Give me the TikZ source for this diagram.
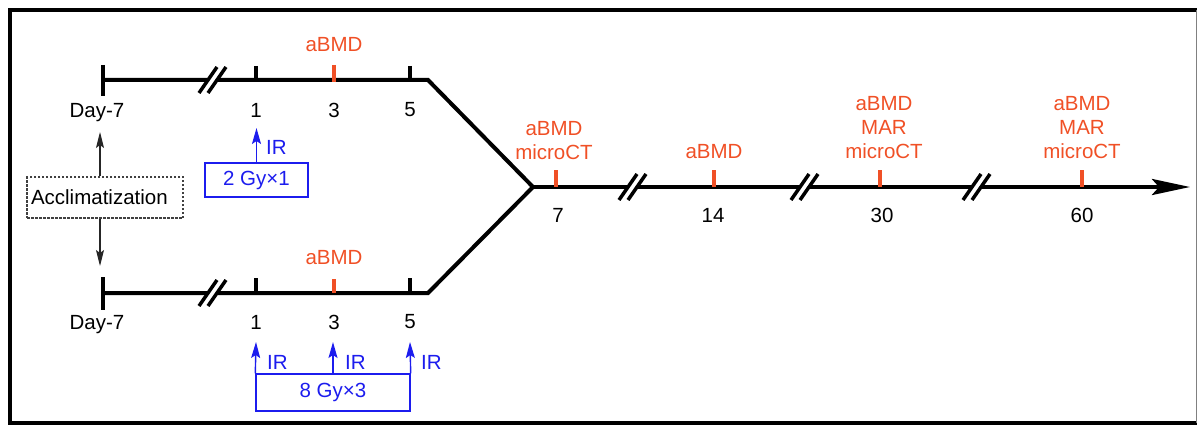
\documentclass[tikz,border=0pt]{standalone}
\usepackage{fontspec}
\setmainfont{Liberation Sans}
\usetikzlibrary{arrows.meta}
\definecolor{assay}{RGB}{240,80,38}
\definecolor{dose}{RGB}{28,28,238}
\begin{document}
\begin{tikzpicture}[x=1pt,y=-1pt,
  txt/.style={font=\fontsize{20.5}{24}\selectfont, inner sep=0pt, align=center},
  assaytxt/.style={txt, text=assay},
  dosetxt/.style={txt, text=dose},
  axis/.style={line width=4pt},
  blacktick/.style={line width=3.5pt},
  assaytick/.style={line width=4pt, draw=assay},
  irarrow/.style={draw=dose, line width=1.4pt, -{Stealth[length=16pt,width=9pt,inset=3pt]}},
  accarrow/.style={draw=black!85, line width=1.1pt, -{Stealth[length=16pt,width=8pt,inset=3pt]}},
  dosebox/.style={draw=dose, line width=1.4pt, txt, text=dose},
  brk/.pic={
    \fill[white] (-14,13) -- (4,-13) -- (13,-13) -- (-5,13) -- cycle;
    \draw[line width=3.5pt] (-14,13) -- (4,-13) (-5,13) -- (13,-13);
  }
]
\useasboundingbox (0,0) rectangle (1198,425);

% frame
\draw[line width=4pt] (1196.5,10) -- (10,10) -- (10,422.5) -- (1196.5,422.5);
\draw[line width=1pt, gray] (1196.5,10) -- (1196.5,422.5);

% timeline points
\coordinate (T0) at (103,80);
\coordinate (TC) at (428,80);
\coordinate (J)  at (533,187);
\coordinate (B0) at (103,293);
\coordinate (BC) at (428,293);
\coordinate (E)  at (1190,187);

% two arms merging into the common axis
\draw[axis, line join=miter] (T0) -- (TC) -- (J) -- (BC) -- (B0);
\draw[axis, -{Stealth[length=38pt,width=16pt,inset=7pt]}] (J) -- (E);

% start bars
\draw[axis] (103,65) -- (103,96);
\draw[axis] (103,277) -- (103,310);

% ticks, upper arm
\draw[blacktick] (256,66) -- (256,80);
\draw[blacktick] (410,66) -- (410,80);
\draw[assaytick] (334,65) -- (334,82);
% ticks, lower arm
\draw[blacktick] (256,278) -- (256,293);
\draw[blacktick] (410,278) -- (410,293);
\draw[assaytick] (334,279) -- (334,293);
% ticks, common axis
\draw[assaytick] (556,170) -- (556,187);
\draw[assaytick] (714,170) -- (714,187);
\draw[assaytick] (880,170) -- (880,187);
\draw[assaytick] (1082,170) -- (1082,187);

% axis breaks
\pic at (213,80) {brk};
\pic at (213,293) {brk};
\pic at (633,187) {brk};
\pic at (805,187) {brk};
\pic at (977,187) {brk};

% day labels
\node[txt] (dayA) at (97,113) {Day-7};
\node[txt] (d1A) at (256,110) {1};
\node[txt] (d3A) at (334,110) {3};
\node[txt] (d5A) at (410,110) {5};
\node[txt] (dayB) at (97,325) {Day-7};
\node[txt] (d1B) at (256,322) {1};
\node[txt] (d3B) at (334,322) {3};
\node[txt] (d5B) at (410,322) {5};
\node[txt] (d7) at (558,215) {7};
\node[txt] (d14) at (713,215) {14};
\node[txt] (d30) at (882,215) {30};
\node[txt] (d60) at (1082,215) {60};

% measurements
\node[assaytxt] (mA) at (334,45) {aBMD};
\node[assaytxt] (mB) at (334,258) {aBMD};
\node[assaytxt] (m7) at (554,141) {aBMD\\microCT};
\node[assaytxt] (m14) at (714,152) {aBMD};
\node[assaytxt] (m30) at (884,128) {aBMD\\MAR\\microCT};
\node[assaytxt] (m60) at (1082,128) {aBMD\\MAR\\microCT};

% acclimatization
\node[draw=black!75, dash pattern=on 2.5pt off 1.5pt, line width=1.1pt,
      minimum width=156pt, minimum height=41pt, txt,
      text width=148pt, align=left] (acc) at (105,197.5) {Acclimatization};
\coordinate (accUp) at (100,132);
\coordinate (accDn) at (100,266);
\draw[accarrow] ([xshift=-5pt]acc.north) -- (accUp);
\draw[accarrow] ([xshift=-5pt]acc.south) -- (accDn);

% irradiation, upper arm
\node[dosebox, minimum width=103pt, minimum height=34pt] (g1) at (256.5,180) {2 Gy×1};
\coordinate (ir1) at (256.5,128);
\draw[irarrow] (g1.north) -- (ir1);
\node[dosetxt, anchor=west] (irA) at (266,147) {IR};

% irradiation, lower arm
\node[dosebox, minimum width=154pt, minimum height=37pt] (g3) at (333,392.5) {8 Gy×3};
\coordinate (ir1b) at (256,342);
\coordinate (ir3b) at (333,342);
\coordinate (ir5b) at (410,342);
\draw[irarrow] (g3.north west) -- (ir1b);
\draw[irarrow] (g3.north) -- (ir3b);
\draw[irarrow] (g3.north east) -- (ir5b);
\node[dosetxt, anchor=west] (irB1) at (267,362) {IR};
\node[dosetxt, anchor=west] (irB3) at (345,362) {IR};
\node[dosetxt, anchor=west] (irB5) at (421,362) {IR};
\end{tikzpicture}
\end{document}
